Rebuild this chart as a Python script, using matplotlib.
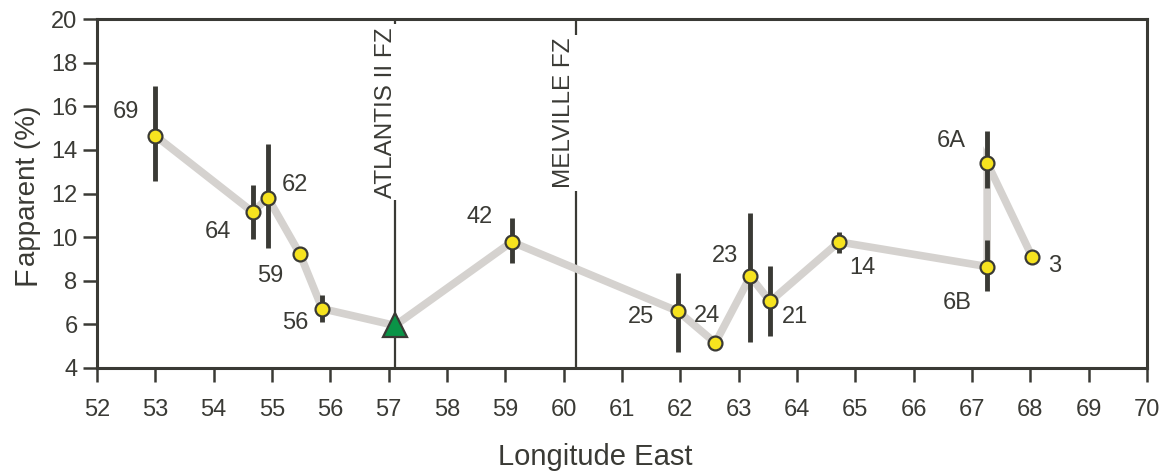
import matplotlib
matplotlib.use('Agg')
import matplotlib.pyplot as plt

plt.rcParams['font.family'] = ['Liberation Sans', 'DejaVu Sans']

ink = '#3a3a35'
yellow = '#f6e31f'
green = '#0a9447'
track_gray = '#d5d2cf'

# Dredge sites along the ridge: longitude (deg E), Fapparent (%), and error range
site_labels = ['69', '64', '62', '59', '56', '42', '25', '24', '23', '21', '14', '6B', '6A', '3']
site_lon = [53.0, 54.67, 54.93, 55.48, 55.86, 59.11, 61.96, 62.6, 63.2, 63.54, 64.72, 67.26, 67.26, 68.03]
site_f = [14.65, 11.15, 11.8, 9.22, 6.72, 9.78, 6.6, 5.15, 8.2, 7.05, 9.78, 8.65, 13.4, 9.1]
err_low = [12.58, 9.92, 9.5, None, 6.1, 8.82, 4.73, None, 5.19, 5.47, 9.28, 7.53, 12.26, None]
err_high = [16.94, 12.4, 14.27, None, 7.35, 10.88, 8.36, None, 11.1, 8.68, 10.24, 9.87, 14.87, None]

# Atlantis II value (triangle)
atlantis_lon = 57.11
atlantis_f = 5.95

# order in which the gray track joins the sites
track_order = ['69', '64', '62', '59', '56', 'AII', '42', '25', '24', '23', '21', '14', '6B', '6A', '3']

# fracture zones
fz_names = ['ATLANTIS II FZ', 'MELVILLE FZ']
fz_lon = [57.11, 60.21]

# label offsets from each point, in pixels (right, up)
label_offsets = {
    '69': (-29, 24), '64': (-35, -20), '62': (27, 13), '59': (-30, -22),
    '56': (-27, -14), '42': (-32, 25), '25': (-37, -6), '24': (-8, 27),
    '23': (-25, 20), '21': (25, -16), '14': (23, -26), '6A': (-36, 22),
    '6B': (-30, -36), '3': (23, -9),
}
fz_offsets = [(-3, -8), (-6, -19)]

W, H = 1161, 475
fig = plt.figure(figsize=(W / 100, H / 100), dpi=100)
ax = fig.add_axes([97 / W, 107 / H, 1050 / W, 349 / H])

px = 0.72  # points per pixel at 100 dpi

# fracture zone lines with boxed labels
for name, lon, (dx, dy) in zip(fz_names, fz_lon, fz_offsets):
    ax.axvline(lon, color=ink, lw=1.6, zorder=1)
    ax.annotate(name, (lon, 1.0), xycoords=('data', 'axes fraction'),
                xytext=(dx * px, dy * px), textcoords='offset points',
                rotation=90, rotation_mode='anchor', ha='right', va='baseline',
                fontsize=17.5, color=ink, zorder=2,
                bbox=dict(boxstyle='square,pad=0.12', fc='white', ec='none'))

# gray track
lookup = dict(zip(site_labels, zip(site_lon, site_f)))
lookup['AII'] = (atlantis_lon, atlantis_f)
tx = [lookup[k][0] for k in track_order]
ty = [lookup[k][1] for k in track_order]
ax.plot(tx, ty, color=track_gray, lw=5.5, solid_joinstyle='miter', zorder=3)

# error bars
for lon, lo, hi in zip(site_lon, err_low, err_high):
    if lo is not None:
        ax.vlines(lon, lo, hi, color=ink, lw=3.5, zorder=4)

# site markers
ax.plot(site_lon, site_f, 'o', ms=10, mfc=yellow, mec=ink, mew=1.6, zorder=5)
ax.plot([atlantis_lon], [atlantis_f], '^', ms=17, mfc=green, mec=ink, mew=1.6, zorder=5)

for lab, lon, f in zip(site_labels, site_lon, site_f):
    dx, dy = label_offsets[lab]
    ax.annotate(lab, (lon, f), xytext=(dx * px, dy * px), textcoords='offset points',
                ha='center', va='center', fontsize=17, color=ink, zorder=6)

ax.set_xlim(52, 70)
ax.set_ylim(4, 20)
ax.set_xticks(range(52, 71))
ax.set_yticks(range(4, 21, 2))
for s in ax.spines.values():
    s.set_color(ink)
    s.set_linewidth(2.2)
ax.tick_params(direction='out', length=10, width=1.8, color=ink, labelcolor=ink,
               labelsize=17, pad=4)
ax.tick_params(axis='x', pad=12)

fig.text(595 / W, 1 - 457 / H, 'Longitude East', ha='center', va='center',
         fontsize=21, color=ink)

# y label: large F followed by smaller "apparent (%)"
f_txt = fig.text(35 / W, 1 - 285 / H, 'F', rotation=90, rotation_mode='anchor',
                 ha='left', va='baseline', fontsize=22, color=ink)
fig.canvas.draw()
bb = f_txt.get_window_extent()
fig.text(35 / W, bb.y1 / H, 'apparent (%)', rotation=90, rotation_mode='anchor',
         ha='left', va='baseline', fontsize=20, color=ink)

fig.savefig('out.png', dpi=100)
